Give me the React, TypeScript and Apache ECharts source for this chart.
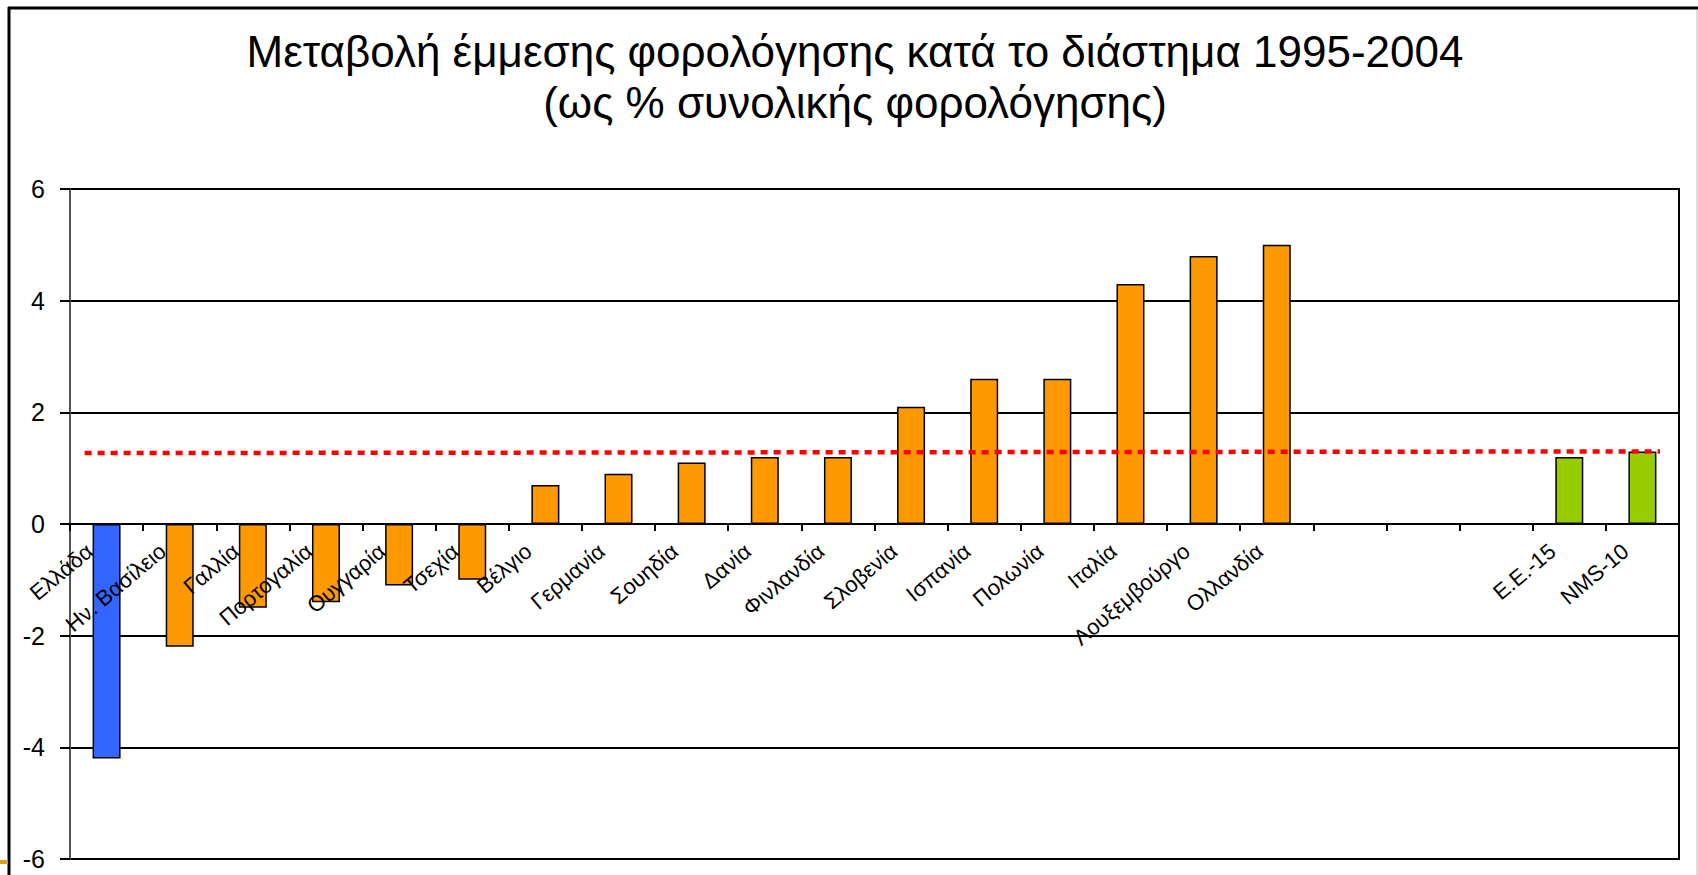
import React, { useEffect, useRef } from "react";
import * as echarts from "echarts";

const countries = [
  "Ελλάδα",
  "Ην. Βασίλειο",
  "Γαλλία",
  "Πορτογαλία",
  "Ουγγαρία",
  "Τσεχία",
  "Βέλγιο",
  "Γερμανία",
  "Σουηδία",
  "Δανία",
  "Φινλανδία",
  "Σλοβενία",
  "Ισπανία",
  "Πολωνία",
  "Ιταλία",
  "Λουξεμβούργο",
  "Ολλανδία",
];
const countryValues = [-4.2, -2.2, -1.5, -1.4, -1.1, -1.0, 0.7, 0.9, 1.1, 1.2, 1.2, 2.1, 2.6, 2.6, 4.3, 4.8, 5.0];
const gapCategories = ["", "", ""];
const aggregates = ["E.E.-15", "NMS-10"];
const aggregateValues = [1.2, 1.3];
const averageValues = [1.27, 1.3];
const yTicks = [-6, -4, -2, 0, 2, 4, 6];
const titleLines = [
  "Μεταβολή έμμεσης φορολόγησης κατά το διάστημα 1995-2004",
  "(ως % συνολικής φορολόγησης)",
];

const HIGHLIGHT = "#3366FF";
const ORANGE = "#FF9900";
const GREEN = "#99CC00";

const GRID_LEFT = 70;
const GRID_TOP = 189;
const GRID_W = 1609;
const GRID_H = 670;

export default function App() {
  const ref = useRef<HTMLDivElement>(null);
  useEffect(() => {
    if (!ref.current) return;
    const chart = echarts.init(ref.current, null, { renderer: "svg" });
    const categories = [...countries, ...gapCategories, ...aggregates];
    const barData = [
      ...countryValues.map((v, i) => ({
        value: v,
        itemStyle: { color: i === 0 ? HIGHLIGHT : ORANGE },
      })),
      ...gapCategories.map(() => ({ value: "-" as any })),
      ...aggregateValues.map((v) => ({ value: v, itemStyle: { color: GREEN } })),
    ];
    const n = categories.length;
    const yMin = yTicks[0];
    const yMax = yTicks[yTicks.length - 1];
    // move the category axis from the grid bottom up to the value 0
    const zeroOffset = -GRID_H * (0 - yMin) / (yMax - yMin);
    const FONT = "'Liberation Sans', Arial, sans-serif";
    chart.setOption({
      animation: false,
      backgroundColor: "#fff",
      title: {
        text: titleLines.join("\n"),
        left: 850,
        top: 21,
        textAlign: "center",
        textStyle: {
          fontFamily: FONT,
          fontSize: 44,
          fontWeight: "normal",
          color: "#000",
          lineHeight: 51,
        },
      },
      grid: {
        left: GRID_LEFT,
        top: GRID_TOP,
        width: GRID_W,
        height: GRID_H,
        containLabel: false,
        outerBoundsMode: "none",
        show: true,
        borderColor: "#000",
        borderWidth: 2,
        backgroundColor: "transparent",
      },
      xAxis: [
        {
          type: "category",
          data: categories,
          position: "bottom",
          offset: zeroOffset,
          z: 4,
          axisLine: { onZero: false, lineStyle: { color: "#000", width: 2 } },
          axisTick: { show: true, length: 7, lineStyle: { color: "#000", width: 2 } },
          axisLabel: {
            interval: 0,
            rotate: 40,
            margin: 10,
            padding: [0, 22, 0, 0],
            fontFamily: FONT,
            fontSize: 22,
            color: "#000",
          },
          splitLine: { show: false },
        },
        {
          type: "value",
          position: "top",
          min: -0.5,
          max: n - 0.5,
          show: false,
          axisLine: { onZero: false },
        },
      ],
      yAxis: {
        type: "value",
        min: yMin,
        max: yMax,
        interval: 2,
        axisLine: { show: true, onZero: false, lineStyle: { color: "#555", width: 2 } },
        axisTick: { show: true, length: 10, lineStyle: { color: "#000", width: 2 } },
        axisLabel: {
          margin: 25,
          fontFamily: FONT,
          fontSize: 25,
          color: "#000",
        },
        splitLine: { show: true, lineStyle: { color: "#000", width: 2 } },
      },
      series: [
        {
          type: "bar",
          data: barData,
          barWidth: 28,
          itemStyle: { borderColor: "#000", borderWidth: 1.5 },
          z: 2,
        },
        {
          type: "line",
          xAxisIndex: 1,
          yAxisIndex: 0,
          data: [
            [-0.3, averageValues[0]],
            [n - 0.76, averageValues[1]],
          ],
          symbol: "none",
          lineStyle: { color: "#FF0000", width: 4.5, type: [7, 6] },
          z: 5,
        },
      ],
      graphic: [
        { type: "line", shape: { x1: 8, y1: 8, x2: 1698, y2: 8 }, style: { stroke: "#000", lineWidth: 3 } },
        { type: "line", shape: { x1: 9, y1: 7, x2: 9, y2: 875 }, style: { stroke: "#000", lineWidth: 3 } },
        { type: "line", shape: { x1: 1697, y1: 10, x2: 1697, y2: 875 }, style: { stroke: "#ddd", lineWidth: 2 } },
        { type: "rect", shape: { x: 0, y: 860, width: 8, height: 4 }, style: { fill: "#D9A21B" } },
      ],
    });
    return () => chart.dispose();
  }, []);
  return (
    <div
      ref={ref}
      style={{ position: "fixed", left: 0, top: 0, width: 1698, height: 875 }}
    />
  );
}
